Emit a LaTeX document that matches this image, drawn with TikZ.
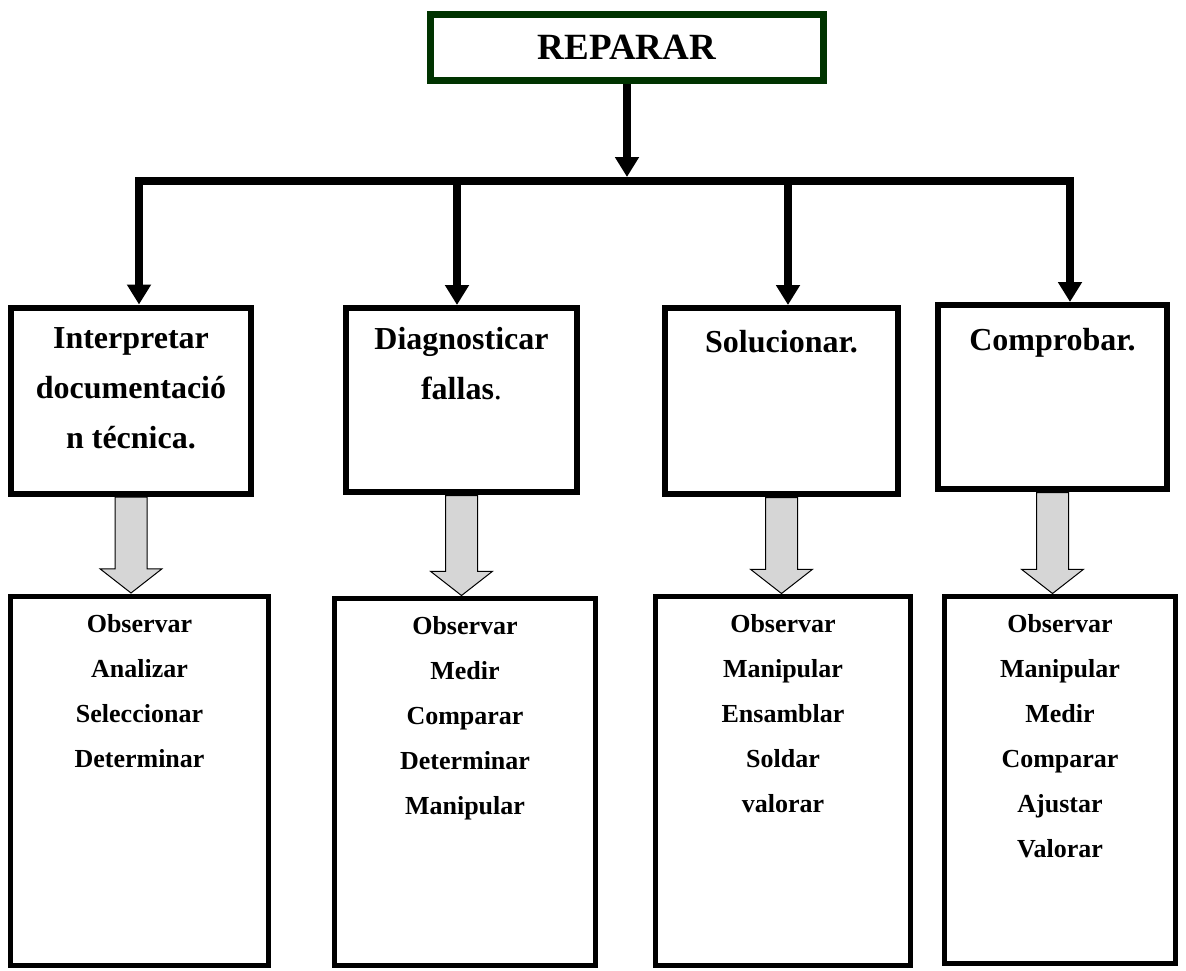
\documentclass[tikz,border=0pt]{standalone}
\usepackage{fontspec}
\setmainfont{Liberation Serif}
\usetikzlibrary{arrows.meta, positioning, shapes.arrows, calc}
\definecolor{repaircolor}{RGB}{0, 51, 0}
\definecolor{dropcolor}{RGB}{214, 214, 214}
\tikzstyle{mainbox} = [
    rectangle,
    draw=repaircolor,
    line width=7pt,
    minimum width=393pt,
    minimum height=66pt,
    font=\fontsize{37}{44}\selectfont\bfseries
]
\tikzstyle{taskbox} = [
    rectangle,
    draw=black,
    line width=6pt,
    minimum height=186pt
]
\tikzstyle{listbox} = [
    rectangle,
    draw=black,
    line width=5pt,
    minimum height=369pt
]
\tikzstyle{tasktext} = [
    align=center,
    inner sep=0pt,
    font=\fontsize{32}{50}\selectfont\bfseries
]
\tikzstyle{listtext} = [
    align=center,
    inner sep=0pt,
    font=\fontsize{26}{45}\selectfont\bfseries
]
\tikzstyle{arrow} = [
    -{Triangle[length=20pt, width=23pt]},
    line width=8pt,
    color=black
]
\tikzstyle{busline} = [
    line width=8pt,
    line cap=rect,
    color=black
]
\tikzstyle{droparrow} = [
    single arrow,
    rotate=-90,
    draw=black,
    line width=1pt,
    fill=dropcolor,
    inner sep=15.5pt,
    minimum height=96pt,
    single arrow head extend=15pt,
    single arrow tip angle=104,
    anchor=tail
]

\begin{document}
\begin{tikzpicture}[x=1pt, y=1pt]
\useasboundingbox (0,0) rectangle (1186,-970);

% Title
\node[mainbox] (repair) at (627,-47.5) {REPARAR};

% Bus line
\coordinate (j1) at (139,-181);
\coordinate (j2) at (457,-181);
\coordinate (j3) at (788,-181);
\coordinate (j4) at (1070,-181);
\coordinate (hub) at ($(repair.south |- j1)+(0,4)$);
\draw[arrow] (repair.south) -- (hub);
\draw[busline] (j1) -- (j4);

% Task boxes
\node[taskbox, minimum width=240pt] (task1) at (131,-400.5) {};
\node[taskbox, minimum width=231pt, minimum height=184pt] (task2) at (461.5,-400) {};
\node[taskbox, minimum width=233pt] (task3) at (781.5,-401) {};
\node[taskbox, minimum width=229pt, minimum height=184pt] (task4) at (1052.5,-397) {};

\node[tasktext, below=23pt of task1.north] (task1txt) {Interpretar\\documentació\\n técnica.};
\node[tasktext, below=22pt of task2.north] (task2txt) {Diagnosticar\\fallas{\mdseries.}};
\node[tasktext, below=25pt of task3.north] (task3txt) {Solucionar.};
\node[tasktext, below=26pt of task4.north] (task4txt) {Comprobar.};

% Arrows down to tasks
\draw[arrow] (j1) -- (j1 |- task1.north);
\draw[arrow] (j2) -- (j2 |- task2.north);
\draw[arrow] (j3) -- (j3 |- task3.north);
\draw[arrow] (j4) -- (j4 |- task4.north);

% Activity boxes
\node[listbox, minimum width=258pt] (list1) at (139.5,-780.5) {};
\node[listbox, minimum width=261pt, minimum height=367pt] (list2) at (465,-781.5) {};
\node[listbox, minimum width=255pt] (list3) at (783,-780.5) {};
\node[listbox, minimum width=231pt, minimum height=367pt] (list4) at (1060,-779.5) {};

\node[listtext, below=21pt of list1.north] (list1txt) {Observar\\Analizar\\Seleccionar\\Determinar};
\node[listtext, below=21pt of list2.north] (list2txt) {Observar\\Medir\\Comparar\\Determinar\\Manipular};
\node[listtext, below=21pt of list3.north] (list3txt) {Observar\\Manipular\\Ensamblar\\Soldar\\valorar};
\node[listtext, below=21pt of list4.north] (list4txt) {Observar\\Manipular\\Medir\\Comparar\\Ajustar\\Valorar};

% Gray arrows
\node[droparrow] (drop1) at (task1.south) {};
\node[droparrow, minimum height=100pt] (drop2) at (task2.south) {};
\node[droparrow] (drop3) at (task3.south) {};
\node[droparrow, minimum height=101pt] (drop4) at (task4.south) {};

\end{tikzpicture}
\end{document}
